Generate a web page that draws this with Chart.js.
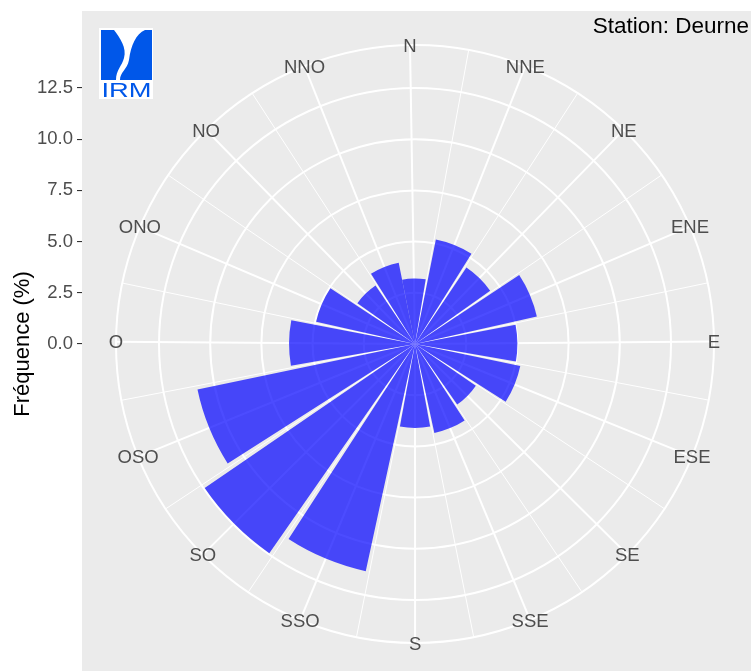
<!DOCTYPE html>
<html><head><meta charset="utf-8">
<script src="https://cdn.jsdelivr.net/npm/chart.js@4"></script>
<style>html,body{margin:0;padding:0;background:#fff;} canvas{display:block;}</style>
</head><body>
<canvas id="c" width="751" height="671"></canvas>
<script>
const directions = ['N','NNE','NE','ENE','E','ESE','SE','SSE','S','SSO','SO','OSO','O','ONO','NO','NNO'];
const frequencies = [3.2, 5.2, 4.5, 6.1, 5.0, 5.25, 3.6, 4.45, 4.1, 11.35, 12.45, 10.85, 6.15, 4.95, 3.45, 4.05];
const yTicks = [0, 2.5, 5, 7.5, 10, 12.5];
const rMax = 14.6;
const yTitle = 'Fréquence (%)';
const stationText = 'Station: Deurne';
const logoText = 'IRM';

const FONT = '"Liberation Sans", Arial, Helvetica, sans-serif';
// fine angular grid: 382 steps around the circle, 24 steps per direction,
// bars 22 steps wide, gaps 2 steps
const STEPS = 382, PER_DIR = 24, BAR_STEPS = 22, GAP_STEPS = 2, HALF = 11;
const STEP_DEG = 360 / STEPS;
const N_ANGLE = -0.96;
const BAR_COLOR = 'rgba(0,0,255,0.7)';

const labels = Array.from({ length: STEPS }, (_, k) =>
  (k >= HALF && (k - HALF) % PER_DIR === 0) ? directions[(k - HALF) / PER_DIR] : '');
const values = frequencies.flatMap((v, i) => (i < frequencies.length - 1 ? [v, 0] : [v]));

Chart.defaults.font.family = FONT;

const decor = {
  id: 'decor',
  beforeDraw(chart) {
    const { ctx, chartArea } = chart;
    ctx.save();
    ctx.fillStyle = '#EBEBEB';
    ctx.fillRect(chartArea.left, 11, chart.width - chartArea.left, chart.height - 11);
    ctx.restore();
  },
  afterDraw(chart) {
    const { ctx } = chart;
    const r = chart.scales.r;
    const dist = r.getDistanceFromCenterForValue(r.max);
    const fs = 18.5;
    ctx.save();
    ctx.font = fs + 'px ' + FONT;
    ctx.fillStyle = '#4D4D4D';
    ctx.textAlign = 'center';
    ctx.textBaseline = 'alphabetic';
    labels.forEach((lab, i) => {
      if (!lab) return;
      const p = r.getPointPosition(i, dist);
      ctx.fillText(lab, p.x, p.y + 0.358 * fs);
    });
    // station text
    ctx.font = '22.5px ' + FONT;
    ctx.fillStyle = '#000';
    ctx.textAlign = 'right';
    ctx.fillText(stationText, 749, 32.5);
    // logo
    ctx.fillStyle = '#FFFFFF';
    ctx.fillRect(99, 28, 54, 71);
    ctx.fillStyle = '#0057E9';
    ctx.fillRect(101, 30, 51, 50);
    ctx.fillStyle = '#FFFFFF';
    ctx.beginPath();
    ctx.moveTo(114, 30);
    ctx.bezierCurveTo(120, 38, 127, 48, 124, 58);
    ctx.bezierCurveTo(122, 66, 116, 70, 116, 80);
    ctx.lineTo(120, 80);
    ctx.bezierCurveTo(120, 72, 127, 70, 129, 60);
    ctx.bezierCurveTo(131, 45, 136, 34, 145, 30);
    ctx.closePath();
    ctx.fill();
    ctx.fillStyle = '#0057E9';
    ctx.translate(126.5, 97);
    ctx.scale(1.3, 1);
    ctx.font = '21px ' + FONT;
    ctx.textAlign = 'center';
    ctx.fillText(logoText, 0, 0);
    ctx.restore();
  }
};

new Chart(document.getElementById('c'), {
  type: 'polarArea',
  data: {
    labels: labels,
    datasets: [{
      data: values,
      backgroundColor: c => (c.dataIndex % 2 === 0 ? BAR_COLOR : 'rgba(0,0,0,0)'),
      borderWidth: 0,
      angle: c => (c.dataIndex % 2 === 0 ? BAR_STEPS : GAP_STEPS) * STEP_DEG
    }]
  },
  options: {
    responsive: false,
    devicePixelRatio: 1,
    animation: false,
    layout: { padding: { top: 45, bottom: 28, left: 0, right: 3 } },
    plugins: { legend: { display: false }, tooltip: { enabled: false } },
    scales: {
      r: {
        min: 0, max: rMax,
        startAngle: N_ANGLE - HALF * STEP_DEG,
        ticks: { display: false, stepSize: 2.5 },
        grid: { circular: true, color: '#FFFFFF', lineWidth: 2 },
        angleLines: {
          display: true, color: '#FFFFFF',
          lineWidth: c => {
            const k = c.index - HALF;
            if (k < 0) return 0;
            if (k % PER_DIR === 0) return 2;
            if (k % PER_DIR === PER_DIR / 2) return 1;
            return 0;
          }
        },
        pointLabels: { display: false }
      },
      y: {
        type: 'linear', position: 'left',
        min: -rMax, max: rMax,
        afterBuildTicks: s => { s.ticks = yTicks.map(v => ({ value: v })); },
        afterFit: s => { s.width = 82; },
        ticks: {
          callback: v => Number(v).toFixed(1),
          color: '#4D4D4D', font: { size: 18.5 }, padding: 4, autoSkip: false
        },
        grid: { drawOnChartArea: false, drawTicks: true, tickLength: 5, color: '#333333', lineWidth: 1.1 },
        border: { display: false },
        title: { display: true, text: yTitle, color: '#000000', font: { size: 22 }, padding: { top: 10, bottom: 0 } }
      }
    }
  },
  plugins: [decor]
});
</script>
</body></html>
